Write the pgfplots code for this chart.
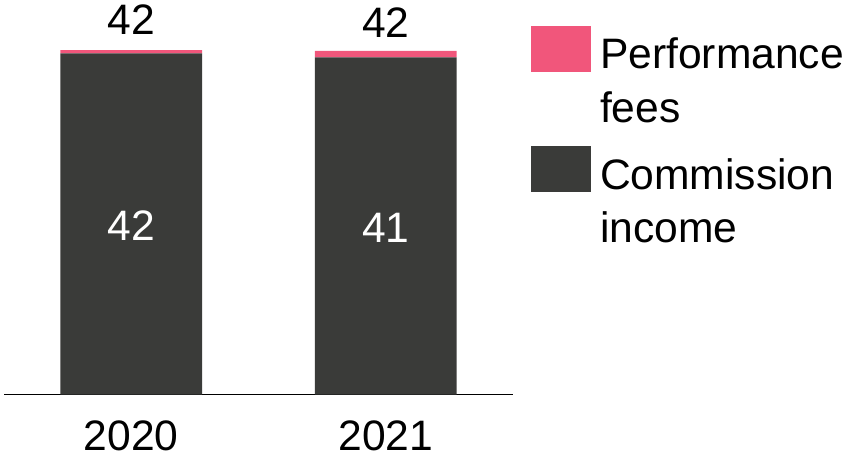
\documentclass[border=0pt]{standalone}
\usepackage{pgfplots}
\pgfplotsset{compat=1.18}
\usepackage{fontspec}
\setmainfont{Liberation Sans}

\definecolor{perfpink}{HTML}{F1567B}
\definecolor{commgray}{HTML}{3A3B39}

\newcommand{\chartfont}{\fontsize{21.3}{26.85}\selectfont}

\pgfplotsset{
  swatch/.style={legend image code/.code={\fill[##1] (0pt,4.8pt) rectangle (30pt,27.8pt);}},
}

\begin{document}
\begin{tikzpicture}
\useasboundingbox (0,0) rectangle (424pt,228.5pt);
\begin{axis}[
  at={(2pt,31.25pt)}, anchor=south west,
  scale only axis, width=254.5pt, height=172.25pt,
  xmin=-0.5, xmax=1.5, ymin=0, ymax=42,
  clip=false,
  ybar stacked, bar width=0.557,
  axis x line=bottom, axis y line=none,
  x axis line style={-, line width=0.6pt, black},
  xtick={0,1}, xticklabels={2020,2021},
  xtick style={draw=none},
  xticklabel style={anchor=base, inner sep=0pt, yshift=-25.75pt},
  ytick=\empty,
  font=\chartfont,
  /pgf/number format/assume math mode=true,
  /pgf/number format/fixed, /pgf/number format/precision=0,
  legend style={at={(1.0354,1.0697)}, anchor=north west, draw=none, fill=none,
    inner sep=0pt, outer sep=0pt, row sep=10.5pt, column sep=4.5pt,
    nodes={inner sep=0pt, align=left, anchor=west},
    font=\chartfont},
  reverse legend,
]
% commission income, value printed in the middle of the bar
\addplot[fill=commgray, draw=none, swatch,
  nodes near coords,
  every node near coord/.style={font=\chartfont, white, anchor=center,
    yshift=-1pt}]
  coordinates {(0,41.6) (1,41.1)};
\addlegendentry{Commission\\income}
% performance fees on top, labelled with the total of the stack
\addplot[fill=perfpink, draw=none, swatch,
  nodes near coords, point meta=explicit,
  every node near coord/.style={font=\chartfont, black, anchor=south,
    yshift=5pt}]
  coordinates {(0,0.4) [42.0] (1,0.8) [41.9]};
\addlegendentry{Performance\\fees}
\end{axis}
\end{tikzpicture}
\end{document}
